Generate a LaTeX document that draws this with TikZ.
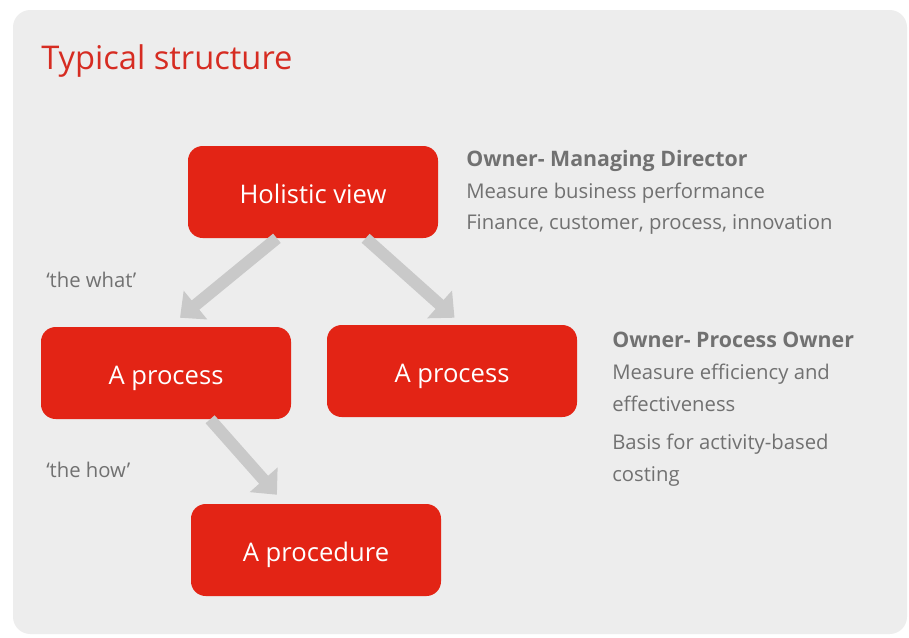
\documentclass[tikz,border=0pt]{standalone}
\usepackage{fontspec}
\setmainfont{Open Sans}
\usetikzlibrary{arrows.meta,calc}
\definecolor{panel}{HTML}{EDEDED}
\definecolor{boxred}{HTML}{E32415}
\definecolor{titlered}{HTML}{D62C22}
\definecolor{txtgray}{HTML}{717171}
\definecolor{arrgray}{HTML}{C9C9C9}
\tikzset{
  redbox/.style={fill=boxred, draw=none, rounded corners=11pt, minimum width=187.5pt, minimum height=69pt, text=white, font=\fontsize{19.2}{22}\selectfont, inner sep=0pt, text height=16.5pt, text depth=0pt},
  flowarrow/.style={draw=arrgray, line width=9pt, -{Triangle[length=15pt,width=27pt]}, line join=round},
  info/.style={anchor=base west, text=txtgray, font=\fontsize{15.2}{18}\selectfont, inner sep=0pt},
  infobold/.style={info, font=\fontsize{16}{19}\selectfont\bfseries}
}
\begin{document}
\begin{tikzpicture}[x=0.75pt,y=-0.75pt]
\useasboundingbox (0,0) rectangle (909,637);
\fill[white] (0,0) rectangle (909,637);
\fill[panel, rounded corners=13pt] (13,10) rectangle (907,634);
\node[anchor=base west, inner sep=0pt, text=titlered, font=\fontsize{24.5}{29}\selectfont] (title) at (41,69) {Typical structure};

\node[redbox] (hv) at (313,192) {Holistic view};
\node[redbox] (lp) at (166,373) {A process};
\node[redbox] (rp) at (452,371) {A process};
\node[redbox] (pr) at (316,550) {A procedure};

\draw[flowarrow] ($(hv.south west)!0.356!(hv.south east)$) -- ($(lp.north west)!0.556!(lp.north east)+(0,-9)$);
\draw[flowarrow] ($(hv.south west)!0.71!(hv.south east)$) -- ($(rp.north west)!0.51!(rp.north east)+(0,-7)$);
\draw[flowarrow] ($(lp.south west)!0.676!(lp.south east)$) -- ($(pr.north west)!0.344!(pr.north east)+(0,-9)$);

\node[info] (what) at (46,287) {‘the what’};
\node[info] (how) at (46,477) {‘the how’};

\node[infobold] (o1) at (466,166) {Owner- Managing Director};
\node[info] (o1a) at (466,198) {Measure business performance};
\node[info] (o1b) at (466,229) {Finance, customer, process, innovation};

\node[infobold] (o2) at (612,347) {Owner- Process Owner};
\node[info] (o2a) at (612,379) {Measure efficiency and};
\node[info] (o2b) at (612,411) {effectiveness};
\node[info] (o2c) at (612,449) {Basis for activity-based};
\node[info] (o2d) at (612,481) {costing};
\end{tikzpicture}
\end{document}
